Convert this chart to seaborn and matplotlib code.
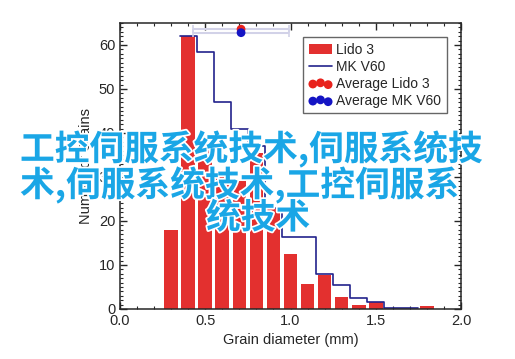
import numpy as np
import pandas as pd
import matplotlib
matplotlib.use("Agg")
import matplotlib.pyplot as plt
import matplotlib.patheffects as pe
from matplotlib.lines import Line2D
from matplotlib.patches import Patch
from matplotlib.ticker import MultipleLocator
import seaborn as sns

# Lido 3 histogram (bin centres in mm, counts)
lido_centers = [0.3, 0.4, 0.5, 0.6, 0.7, 0.8, 0.9, 1.0, 1.1, 1.2, 1.3, 1.4, 1.5, 1.6, 1.7, 1.8]
lido_counts = [18, 62, 37, 31, 29, 35.5, 23, 12.6, 5.6, 7.7, 2.7, 0.8, 1.6, 0, 0, 0.7]

# MK V60 histogram (step outline)
mk_centers = [0.4, 0.5, 0.6, 0.7, 0.8, 0.9, 1.0, 1.1, 1.2, 1.3, 1.4, 1.5, 1.6, 1.7]
mk_counts = [62, 58.5, 47, 41, 37, 23, 16.3, 16.3, 8, 5.4, 2.5, 1.6, 0.3, 0.3]

# averages with spread
avg_x = [0.71, 0.71]
avg_y = [63.6, 62.8]
avg_spread = [0.28, 0.28]

legend_labels = ["Lido 3", "MK V60", "Average Lido 3", "Average MK V60"]
overlay_lines = ["工控伺服系统技术,伺服系统技", "术,伺服系统技术,工控伺服系", "统技术"]

RED = "#E3302F"
NAVY = "#22228C"
DOT_RED = "#E8221C"
DOT_BLUE = "#1414C4"

sns.set_style("ticks")
plt.rcParams["font.family"] = ["Liberation Sans", "DejaVu Sans"]
plt.rcParams["axes.linewidth"] = 1.1

fig = plt.figure(figsize=(5.15, 3.59), dpi=100)
ax = fig.add_axes([120 / 515, 1 - 309 / 359, (461 - 120) / 515, (309 - 23) / 359])


def edges_from(centers, w=0.1):
    c = np.array(centers)
    return [round(float(e), 3) for e in np.append(c - w / 2, c[-1] + w / 2)]


lido = pd.DataFrame({"d": lido_centers, "n": lido_counts})
mk = pd.DataFrame({"d": mk_centers, "n": mk_counts})

sns.histplot(data=lido, x="d", weights="n", bins=edges_from(lido_centers),
             shrink=0.8, color=RED, alpha=1, linewidth=0, ax=ax)
sns.histplot(data=mk, x="d", weights="n", bins=edges_from(mk_centers),
             element="step", fill=False, color=NAVY, linewidth=1.2, ax=ax)

for x, y, s in zip(avg_x, avg_y, avg_spread):
    ax.errorbar(x, y, xerr=s, fmt="none", ecolor="#D2D2E8", elinewidth=1.5,
                capsize=3, capthick=1.2, zorder=3)
sc_red = ax.scatter(avg_x[0], avg_y[0], s=40, color=DOT_RED, edgecolor="none", zorder=4)
sc_blue = ax.scatter(avg_x[1], avg_y[1], s=40, color=DOT_BLUE, edgecolor="none", zorder=5)

ax.set_xlim(0, 2)
ax.set_ylim(0, 65)
ax.xaxis.set_major_locator(MultipleLocator(0.5))
ax.xaxis.set_minor_locator(MultipleLocator(0.1))
ax.yaxis.set_major_locator(MultipleLocator(10))
ax.yaxis.set_minor_locator(MultipleLocator(1))
ax.tick_params(which="both", direction="in", top=True, right=True, labelsize=10.5)
ax.tick_params(which="major", length=5, width=1)
ax.tick_params(which="minor", length=2.5, width=0.8)
ax.set_xlabel("Grain diameter (mm)", fontsize=10.5)
ax.set_ylabel("Number of Grains", fontsize=10.5)

handles = [Patch(facecolor=RED, edgecolor="none"),
           Line2D([], [], color=NAVY, lw=1.2),
           sc_red, sc_blue]
ax.legend(handles=handles, labels=legend_labels, scatterpoints=3,
          loc="upper right", bbox_to_anchor=(0.959, 0.951), borderaxespad=0,
          frameon=True, fancybox=False, edgecolor="#666666", framealpha=1,
          fontsize=10, handlelength=1.7, handletextpad=0.3,
          labelspacing=0.22, borderpad=0.4)

# overlay caption
line_pos = [(20, 149), (20, 185), (206, 218)]
for txt, (px, py) in zip(overlay_lines, line_pos):
    fig.text(px / 515, 1 - py / 359, txt, ha="left", va="center",
             fontsize=25, fontweight="bold", color="#1AA6E6",
             family=["Noto Sans CJK SC", "DejaVu Sans"],
             path_effects=[pe.withStroke(linewidth=2.5, foreground="white")])

fig.savefig("out.png", dpi=100)
